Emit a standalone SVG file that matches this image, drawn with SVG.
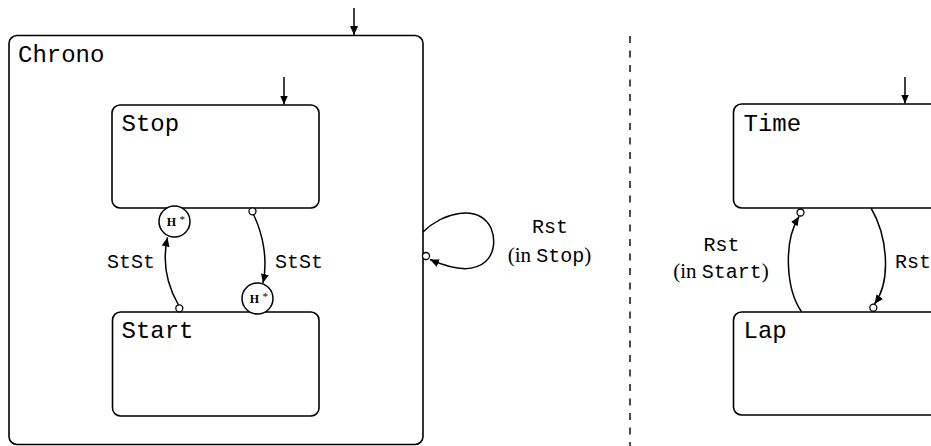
<svg xmlns="http://www.w3.org/2000/svg" width="931" height="446" viewBox="0 0 931 446">
<defs>
<marker id="ah" markerWidth="10" markerHeight="8" refX="9" refY="4" orient="auto" markerUnits="userSpaceOnUse">
<path d="M0,0 L9,4 L0,8 Z" fill="#000"/>
</marker>
<style>
.box{fill:none;stroke:#000;stroke-width:1.6}
.tt{font-family:"Liberation Mono",monospace;fill:#000}
.rm{font-family:"Liberation Serif",serif;fill:#000}
.edge{fill:none;stroke:#000;stroke-width:1.5}
.dot{fill:#fff;stroke:#000;stroke-width:1.3}
.hist{fill:#fff;stroke:#000;stroke-width:1.5}
</style>
</defs>
<rect width="931" height="446" fill="#fff"/>

<g id="chrono">
<rect class="box" x="9" y="35.5" width="414" height="409" rx="8"/>
<text class="tt" x="18" y="62" font-size="24">Chrono</text>
</g>
<g id="stop">
<rect class="box" x="112" y="105" width="207" height="103" rx="8"/>
<text class="tt" x="121.5" y="131" font-size="24">Stop</text>
</g>
<g id="start">
<rect class="box" x="112.5" y="312" width="206.5" height="104" rx="8"/>
<text class="tt" x="121.5" y="338" font-size="24">Start</text>
</g>
<g id="hist1">
<circle class="hist" cx="174.5" cy="221.5" r="15.5"/>
<text class="rm" x="171.5" y="226" font-size="12" font-weight="bold" text-anchor="middle">H</text>
<text class="rm" x="179.5" y="223" font-size="11">*</text>
</g>
<g id="hist2">
<circle class="hist" cx="257.5" cy="298.5" r="15.5"/>
<text class="rm" x="254.5" y="303" font-size="12" font-weight="bold" text-anchor="middle">H</text>
<text class="rm" x="262.5" y="300" font-size="11">*</text>
</g>
<g id="time">
<rect class="box" x="733.5" y="104" width="220" height="104" rx="8"/>
<text class="tt" x="743.5" y="131" font-size="24">Time</text>
</g>
<g id="lap">
<rect class="box" x="733.5" y="312" width="220" height="103" rx="8"/>
<text class="tt" x="743.5" y="338" font-size="24">Lap</text>
</g>

<g id="connectors">
<line x1="630" y1="36" x2="630" y2="446" stroke="#000" stroke-width="1.4" stroke-dasharray="7,7.5"/>
<line class="edge" x1="354" y1="8" x2="354" y2="35" marker-end="url(#ah)"/>
<line class="edge" x1="284" y1="77" x2="284" y2="104.5" marker-end="url(#ah)"/>
<line class="edge" x1="905" y1="77" x2="905" y2="103.5" marker-end="url(#ah)"/>

<path class="edge" d="M178.5,305 C167,285 162,262 167.5,237.5" marker-end="url(#ah)"/>
<circle class="dot" cx="179.3" cy="308.3" r="3.5"/>
<path class="edge" d="M253.5,214.5 C263,234 268,260 263,283" marker-end="url(#ah)"/>
<circle class="dot" cx="252.5" cy="211.3" r="3.5"/>

<path class="edge" d="M423,232 C442,213 478,203 491,228 C500,250 488,285 430,259.5" marker-end="url(#ah)"/>
<circle class="dot" cx="426" cy="256" r="3.5"/>

<path class="edge" d="M801.7,312 C786,290 783,242 799,216.5" marker-end="url(#ah)"/>
<circle class="dot" cx="800.5" cy="212.5" r="3.5"/>
<path class="edge" d="M871,208 C887,235 892,280 874.5,304" marker-end="url(#ah)"/>
<circle class="dot" cx="873.3" cy="307.7" r="3.5"/>

<text class="tt" x="107" y="268" font-size="20">StSt</text>
<text class="tt" x="275" y="268" font-size="20">StSt</text>
<text class="tt" x="550" y="233" font-size="20" text-anchor="middle">Rst</text>
<text x="549.5" y="262" font-size="20" text-anchor="middle"><tspan class="rm" font-size="21">(in </tspan><tspan class="tt">Stop</tspan><tspan class="rm" font-size="21">)</tspan></text>
<text class="tt" x="721.5" y="251" font-size="20" text-anchor="middle">Rst</text>
<text x="721" y="278" font-size="20" text-anchor="middle"><tspan class="rm" font-size="21">(in </tspan><tspan class="tt">Start</tspan><tspan class="rm" font-size="21">)</tspan></text>
<text class="tt" x="895" y="268" font-size="20">Rst</text>
</g>
</svg>
